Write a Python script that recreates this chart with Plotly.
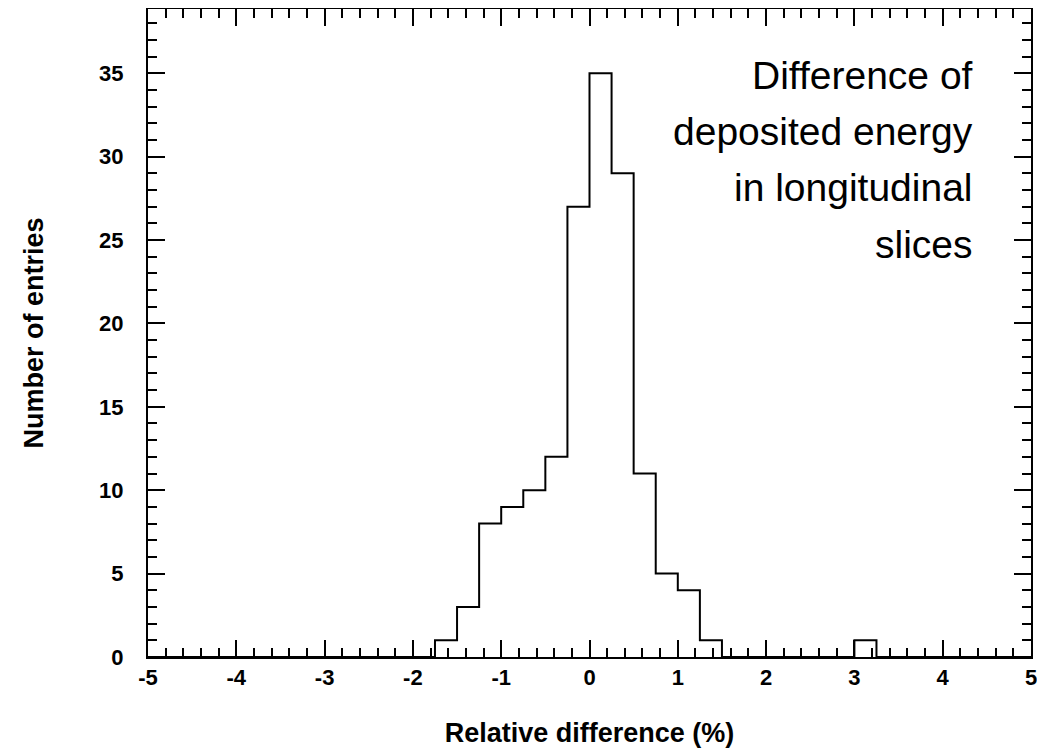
import numpy as np
import plotly.graph_objects as go

# histogram: 40 bins of width 0.25 from -5 to 5
bin_edges = np.arange(-5.0, 5.0001, 0.25)
counts = [0, 0, 0, 0, 0, 0, 0, 0, 0, 0,
          0, 0, 0, 1, 3, 8, 9, 10, 12, 27,
          35, 29, 11, 5, 4, 1, 0, 0, 0, 0,
          0, 0, 1, 0, 0, 0, 0, 0, 0, 0]

x_ticks = [-5, -4, -3, -2, -1, 0, 1, 2, 3, 4, 5]
y_ticks = [0, 5, 10, 15, 20, 25, 30, 35]

note_lines = ["Difference of", "deposited energy", "in longitudinal", "slices"]

step_x = list(bin_edges)
step_y = counts + [0]

fig = go.Figure()
fig.add_trace(go.Scatter(x=step_x, y=step_y, mode="lines",
                         line=dict(color="black", width=2, shape="hv"),
                         showlegend=False, hoverinfo="skip"))

tickfont = dict(family="Liberation Sans, Arial", size=22, color="black", weight="bold")
titlefont = dict(family="Liberation Sans, Arial", size=27, color="black")

fig.update_xaxes(range=[-5, 5], tickvals=x_ticks, ticktext=[str(v) for v in x_ticks],
                 ticks="inside", ticklen=17, tickwidth=1.6, tickcolor="black",
                 minor=dict(ticks="inside", ticklen=9, dtick=0.2, tick0=0, tickwidth=1.6, tickcolor="black"),
                 showline=True, linewidth=2, linecolor="black", mirror="allticks",
                 showgrid=False, zeroline=False, automargin=False,
                 tickfont=tickfont,
                 title=dict(text="<b>Relative difference (%)</b>", standoff=34, font=titlefont))
fig.update_yaxes(range=[0, 38.85], tickvals=y_ticks,
                 ticks="inside", ticklen=17, tickwidth=1.6, tickcolor="black",
                 minor=dict(ticks="inside", ticklen=9, dtick=1, tickwidth=1.6, tickcolor="black"),
                 showline=True, linewidth=2, linecolor="black", mirror="allticks",
                 showgrid=False, zeroline=False, ticklabelstandoff=18, automargin=False,
                 tickfont=tickfont,
                 title=dict(text="<b>Number of entries</b>", standoff=48, font=titlefont))

# the note, one annotation per line so the line spacing can follow the original
note_y = [0.898, 0.811, 0.725, 0.637]
for line, yy in zip(note_lines, note_y):
    fig.add_annotation(x=0.937, y=yy, xref="paper", yref="paper",
                       xanchor="right", yanchor="middle",
                       text=line, showarrow=False, align="right",
                       font=dict(family="Liberation Sans, Arial, sans-serif", size=39, color="black"))

# page body adds an 8px offset, so the figure is a bit smaller than the window
fig.update_layout(width=1037, height=741, plot_bgcolor="white", paper_bgcolor="white",
                  margin=dict(l=140, r=14, t=1, b=92))
fig.write_html("out.html")
